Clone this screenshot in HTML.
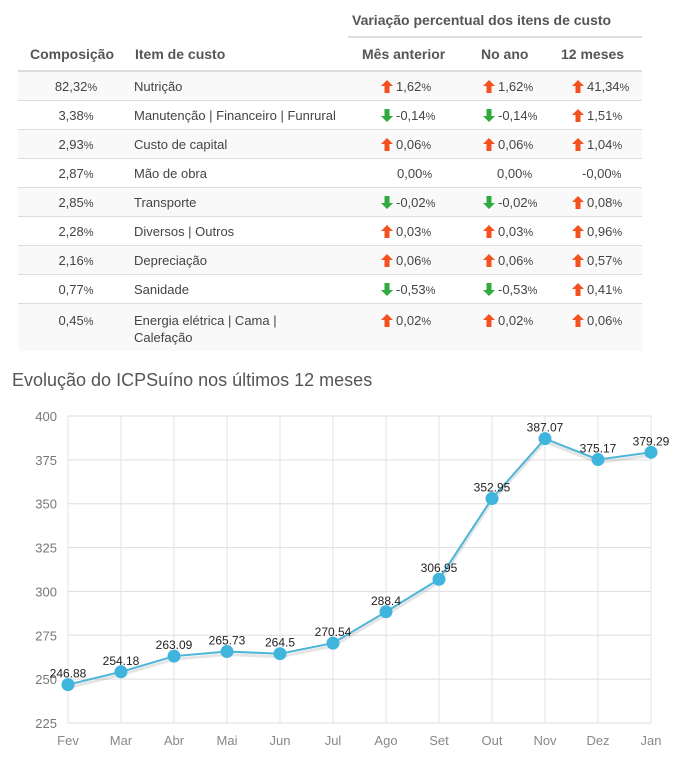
<!DOCTYPE html>
<html><head><meta charset="utf-8">
<style>
*{margin:0;padding:0;box-sizing:border-box}
body{width:689px;height:776px;background:#fff;font-family:"Liberation Sans",Arial,sans-serif;color:#333;position:relative;overflow:hidden}
.abs{position:absolute}
.hdr{font-weight:bold;color:#555;font-size:14px}
table{position:absolute;left:18px;top:71px;width:624px;border-collapse:collapse;font-size:13px;color:#444;table-layout:fixed}
td{height:29px;border-top:1px solid #ddd;vertical-align:middle;padding:0;white-space:nowrap}
tr:nth-child(odd) td{background:#f9f9f9}
tr.last td{height:47px;vertical-align:top;padding-top:8px;line-height:17px}
td.c{text-align:center}
td.i{padding-left:0}
td.v{text-align:left}
.pc{font-size:11px}
.up,.dn{display:inline-block;width:12px;height:13px;vertical-align:-2px;margin-right:3px}
</style></head><body>
<div class="abs hdr" style="left:352px;top:12px;font-size:14px">Variação percentual dos itens de custo</div>
<div class="abs" style="left:348px;top:36px;width:294px;height:2px;background:#ddd"></div>
<div class="abs hdr" style="left:30px;top:46px">Composição</div>
<div class="abs hdr" style="left:135px;top:46px">Item de custo</div>
<div class="abs hdr" style="left:362px;top:46px">Mês anterior</div>
<div class="abs hdr" style="left:481px;top:46px">No ano</div>
<div class="abs hdr" style="left:561px;top:46px">12 meses</div>
<div class="abs" style="left:18px;top:70px;width:624px;height:2px;background:#ddd"></div>
<table>
<colgroup><col style="width:116px"><col style="width:210px"><col style="width:100px"><col style="width:90px"><col style="width:108px"></colgroup>
<tbody id="tb"></tbody></table>
<div class="abs" style="left:12px;top:370px;font-size:18px;color:#555">Evolução do ICPSuíno nos últimos 12 meses</div>
<svg id="ch" class="abs" style="left:0;top:400px" width="689" height="376"></svg>
<script>
const rows=[["82,32","Nutrição","1,62","1,62","41,34"],["3,38","Manutenção | Financeiro | Funrural","-0,14","-0,14","1,51"],["2,93","Custo de capital","0,06","0,06","1,04"],["2,87","Mão de obra","0,00","0,00","-0,00"],["2,85","Transporte","-0,02","-0,02","0,08"],["2,28","Diversos | Outros","0,03","0,03","0,96"],["2,16","Depreciação","0,06","0,06","0,57"],["0,77","Sanidade","-0,53","-0,53","0,41"],["0,45","Energia elétrica | Cama |<br>Calefação","0,02","0,02","0,06"]];
const up='<svg class="up" viewBox="0 0 12 13"><path d="M6 0L12 6H8.5V13H3.5V6H0Z" fill="#f4511e"/></svg>';
const dn='<svg class="dn" viewBox="0 0 12 13"><path d="M6 13L12 7H8.5V0H3.5V7H0Z" fill="#2eaa3f"/></svg>';
const tb=document.getElementById('tb');
const iconPad=[37,39,38],plainPad=[53,53,48];
rows.forEach((r,k)=>{
 const tr=document.createElement('tr');
 
 
 if(k==rows.length-1)tr.className='last';
 let h='<td class="c">'+r[0]+'<span class="pc">%</span></td><td class="i">'+r[1]+'</td>';
 for(let j=2;j<5;j++){
  const v=r[j];let ic='';
  if(v!=="0,00"&&v!=="-0,00") ic=v[0]==='-'?dn:up;
  const pad=ic?iconPad[j-2]:plainPad[j-2];
  h+='<td class="v" style="padding-left:'+pad+'px">'+ic+v+'<span class="pc">%</span></td>';
 }
 tr.innerHTML=h;tb.appendChild(tr);
});
</script>
<script>
const months=["Fev","Mar","Abr","Mai","Jun","Jul","Ago","Set","Out","Nov","Dez","Jan"];
const values=[246.88,254.18,263.09,265.73,264.5,270.54,288.4,306.95,352.95,387.07,375.17,379.29];
const labels=["246.88","254.18","263.09","265.73","264.5","270.54","288.4","306.95","352.95","387.07","375.17","379.29"];
const yTicks=[225,250,275,300,325,350,375,400];
const svg=document.getElementById('ch');const NS='http://www.w3.org/2000/svg';
const x0=68,x1=651,yTop=16,yBot=323,yMin=225,yMax=400;
const xs=i=>x0+i*(x1-x0)/(months.length-1);
const ys=v=>yBot-(v-yMin)/(yMax-yMin)*(yBot-yTop);
function mk(t,a){const e=document.createElementNS(NS,t);for(const k in a)e.setAttribute(k,a[k]);svg.appendChild(e);return e;}
yTicks.forEach(t=>{
 const l=mk('line',{x1:x0,x2:x1,y1:ys(t),y2:ys(t),stroke:'#ddd','stroke-width':1});
 
 
 const tx=mk('text',{x:x0-11,y:ys(t)+5,'text-anchor':'end','font-size':13,fill:'#777','font-family':'Liberation Sans,sans-serif'});
 tx.textContent=t;
 
 
});
months.forEach((m,i)=>{
 const l=mk('line',{x1:xs(i),x2:xs(i),y1:yTop,y2:yBot,stroke:'#e3e3e3','stroke-width':1});
 
 
 const tx=mk('text',{x:xs(i),y:yBot+22,'text-anchor':'middle','font-size':13,fill:'#888','font-family':'Liberation Sans,sans-serif'});
 tx.textContent=m;
 
 
});
const pts=values.map((v,i)=>xs(i)+','+ys(v)).join(' ');
const sh=mk('polyline',{points:values.map((v,i)=>xs(i)+','+(ys(v)+3)).join(' '),fill:'none',stroke:'rgba(0,0,0,0.1)','stroke-width':3});


const pl=mk('polyline',{points:pts,fill:'none',stroke:'#4db6d8','stroke-width':2});


values.forEach((v,i)=>{
 const c=mk('circle',{cx:xs(i),cy:ys(v),r:6.5,fill:'#3fb4dc'});
 
 
 const t=mk('text',{x:xs(i),y:ys(v)-7,'text-anchor':'middle','font-size':12,fill:'#222','font-family':'Liberation Sans,sans-serif'});
 t.textContent=labels[i];
 
 
});
</script>
</body></html>
